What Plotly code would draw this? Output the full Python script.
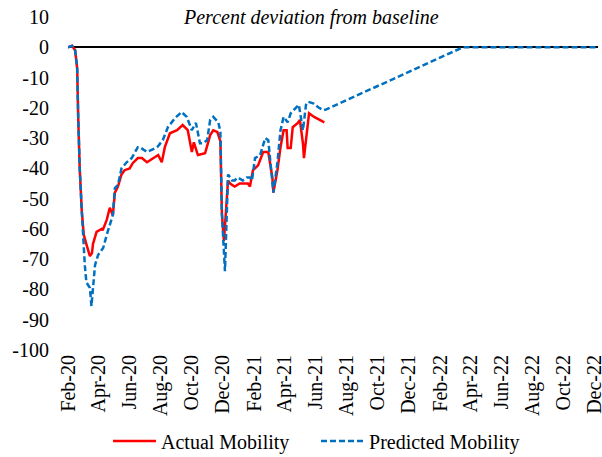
import plotly.graph_objects as go

# actual mobility
actual_dates = ['2020-02-15', '2020-02-23', '2020-02-29', '2020-03-04', '2020-03-06', '2020-03-09',
                '2020-03-13', '2020-03-17', '2020-03-22', '2020-03-29', '2020-04-02', '2020-04-04',
                '2020-04-11', '2020-04-21', '2020-04-23', '2020-05-01', '2020-05-07', '2020-05-10',
                '2020-05-13', '2020-05-17', '2020-05-23', '2020-05-30', '2020-06-05', '2020-06-15',
                '2020-06-21', '2020-07-01', '2020-07-09', '2020-07-19', '2020-07-31', '2020-08-10',
                '2020-08-17', '2020-08-23', '2020-09-02', '2020-09-16', '2020-09-27', '2020-10-07',
                '2020-10-15', '2020-10-19', '2020-10-25', '2020-10-27', '2020-11-10', '2020-11-20',
                '2020-11-26', '2020-12-04', '2020-12-10', '2020-12-13', '2020-12-17', '2020-12-21',
                '2020-12-25', '2020-12-29', '2021-01-07', '2021-01-17', '2021-01-27', '2021-02-02',
                '2021-02-06', '2021-02-12', '2021-02-22', '2021-03-04', '2021-03-14', '2021-03-22',
                '2021-03-24', '2021-04-01', '2021-04-07', '2021-04-13', '2021-04-19', '2021-04-21',
                '2021-04-27', '2021-05-01', '2021-05-11', '2021-05-15', '2021-05-21', '2021-05-23',
                '2021-05-27', '2021-06-02', '2021-06-12', '2021-06-22', '2021-07-02']
actual_vals = [0, 0.5, -1, -7, -23, -40,
               -54, -62, -65, -69, -68, -65,
               -61, -60, -60.5, -57, -53, -54,
               -55.5, -48, -46, -42, -40.6, -40,
               -38.3, -36.6, -36.6, -38, -36.6, -35.6,
               -38, -33, -28.4, -27.4, -25.7, -27.4,
               -34.6, -31.4, -34.6, -35.6, -35, -29,
               -27.4, -28, -31, -55, -64, -55,
               -44, -45, -46, -45, -45, -45,
               -46, -40.6, -39, -34.6, -34.6, -43,
               -48, -40.6, -33, -27.4, -27.4, -33.3,
               -33.3, -26.4, -25, -24, -31.7, -36.6,
               -30.7, -21.8, -23, -24, -24.8]

# predicted mobility
pred_dates = ['2020-02-15', '2020-02-23', '2020-02-29', '2020-03-04', '2020-03-06', '2020-03-09',
              '2020-03-13', '2020-03-16', '2020-03-19', '2020-03-22', '2020-03-29', '2020-04-01',
              '2020-04-04', '2020-04-08', '2020-04-14', '2020-04-24', '2020-05-01', '2020-05-07',
              '2020-05-13', '2020-05-17', '2020-05-23', '2020-05-30', '2020-06-09', '2020-06-19',
              '2020-07-01', '2020-07-05', '2020-07-19', '2020-08-08', '2020-08-19', '2020-08-29',
              '2020-09-12', '2020-09-25', '2020-10-05', '2020-10-15', '2020-10-19', '2020-10-23',
              '2020-10-31', '2020-11-06', '2020-11-14', '2020-11-20', '2020-11-26', '2020-12-06',
              '2020-12-10', '2020-12-13', '2020-12-19', '2020-12-23', '2020-12-25', '2021-01-02',
              '2021-01-07', '2021-01-13', '2021-01-23', '2021-01-31', '2021-02-06', '2021-02-10',
              '2021-02-16', '2021-02-26', '2021-03-08', '2021-03-14', '2021-03-22', '2021-03-24',
              '2021-04-01', '2021-04-07', '2021-04-13', '2021-04-21', '2021-04-27', '2021-05-07',
              '2021-05-13', '2021-05-21', '2021-05-27', '2021-05-31', '2021-06-10', '2021-06-20',
              '2021-06-30', '2021-07-06', '2022-03-31', '2022-12-21']
pred_vals = [0, 0.5, -1, -7, -23, -40,
             -54, -65, -72, -77.6, -79.5, -85.5,
             -80, -72, -68.6, -66.3, -62, -58.7,
             -55.4, -46.5, -45.5, -40, -38, -36.6,
             -33, -33, -34.6, -33, -30.7, -26.4,
             -23.4, -21.4, -23, -27.4, -26, -25,
             -31.7, -31.7, -30.7, -24, -23, -24.8,
             -28, -55, -74, -55, -42, -44,
             -44, -43, -44, -43, -43, -44,
             -36.6, -35.6, -30, -30.7, -45, -48,
             -38, -27.4, -23, -24.8, -21.8, -20,
             -19, -27.4, -19, -18, -18.5, -19.8,
             -20.8, -20.5, 0, 0]

tick_dates = ['2020-02-15', '2020-04-15', '2020-06-15', '2020-08-15', '2020-10-15', '2020-12-15',
              '2021-02-15', '2021-04-15', '2021-06-15', '2021-08-15', '2021-10-15', '2021-12-15',
              '2022-02-15', '2022-04-15', '2022-06-15', '2022-08-15', '2022-10-15', '2022-12-15']
tick_text = ['Feb-20', 'Apr-20', 'Jun-20', 'Aug-20', 'Oct-20', 'Dec-20',
             'Feb-21', 'Apr-21', 'Jun-21', 'Aug-21', 'Oct-21', 'Dec-21',
             'Feb-22', 'Apr-22', 'Jun-22', 'Aug-22', 'Oct-22', 'Dec-22']
y_ticks = [10, 0, -10, -20, -30, -40, -50, -60, -70, -80, -90, -100]
y_text = ['10', '0', '-10', '-20', '-30', '-40', '-50', '-60', '-70', '-80', '-90', '-100']

serif = 'Liberation Serif'

fig = go.Figure()
fig.add_trace(go.Scatter(x=actual_dates, y=actual_vals, mode='lines', name='Actual Mobility',
                         line=dict(color='#FF0000', width=2.5)))
fig.add_trace(go.Scatter(x=pred_dates, y=pred_vals, mode='lines', name='Predicted Mobility',
                         line=dict(color='#0070C0', width=2.5, dash='6px,3px')))

fig.add_annotation(text='<i>Percent deviation from baseline</i>', xref='paper', yref='paper',
                   x=0.458, y=1.0, xanchor='center', yanchor='middle', showarrow=False,
                   font=dict(family=serif, size=20, color='#000000'))

fig.update_layout(
    width=602, height=457,
    margin=dict(l=68, r=4, t=17, b=107),
    paper_bgcolor='white', plot_bgcolor='white',
    font=dict(family=serif, size=20, color='#000000'),
    showlegend=True,
    legend=dict(orientation='h', x=0.0755, xanchor='left', yref='container', y=0.035,
                yanchor='middle', font=dict(family=serif, size=20), itemwidth=43,
                entrywidth=150, entrywidthmode='pixels', bgcolor='rgba(0,0,0,0)'),
    xaxis=dict(type='date', range=['2020-02-15', '2022-12-21'], tickvals=tick_dates,
               ticktext=tick_text, tickangle=-90, showgrid=False, showline=False,
               zeroline=False, ticks='', automargin=False, ticklabeloverflow='allow'),
    yaxis=dict(range=[-100, 10], tickvals=y_ticks, ticktext=y_text, showgrid=False,
               showline=False, zeroline=True, zerolinecolor='#000000', zerolinewidth=1.5,
               ticks='', ticklabelstandoff=18, automargin=False),
)

# drop the browser's default 8px body margin so the figure sits at the page corner
fig.write_html('out.html', config={'displayModeBar': False},
               post_script="document.body.style.margin='0px';")
